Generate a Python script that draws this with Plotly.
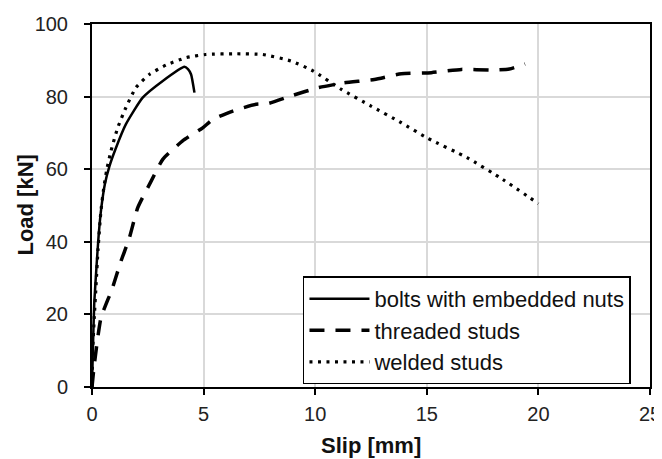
import plotly.graph_objects as go

bolts_x = [0, 0.03, 0.1, 0.2, 0.3, 0.42, 0.58, 0.78, 1.05, 1.52, 2.27, 3.17, 4.14, 4.3, 4.44, 4.59]
bolts_y = [0, 8, 23, 33, 42, 49.5, 56, 60.8, 65.5, 72.4, 79.7, 84.3, 88.2, 87.6, 86.1, 81.1]

threaded_x = [0, 0.1, 0.4, 0.9, 1.3, 1.67, 2.05, 2.65, 3.17, 4.06, 4.96, 5.41, 6.31, 7.35, 7.9, 8.92, 10.1, 11.3, 12.65, 13.86, 15.2, 16.55, 17.9, 18.7, 19.4]
threaded_y = [0, 6, 19, 27, 34.7, 41, 49.4, 56.7, 62.7, 67.8, 71.4, 73.7, 76, 77.9, 78.1, 80.2, 82.4, 83.8, 84.7, 86.3, 86.6, 87.5, 87.3, 87.6, 89]

welded_x = [0, 0.03, 0.1, 0.18, 0.27, 0.4, 0.52, 0.66, 0.85, 1.15, 1.52, 1.97, 2.57, 3.32, 4.2, 5.1, 6.46, 7.65, 8.92, 9.9, 11.17, 12.5, 13.86, 15.05, 16.8, 18.4, 20]
welded_y = [0, 10, 19, 28, 38, 48.5, 54.5, 59.8, 65, 71.4, 77, 82.5, 86.1, 88.7, 90.7, 91.6, 91.8, 91.6, 89.8, 87.1, 82, 77.4, 72.8, 68.5, 63.2, 57.2, 50.5]

series_names = ["bolts with embedded nuts", "threaded studs", "welded studs"]

x_ticks = [0, 5, 10, 15, 20, 25]
y_ticks = [0, 20, 40, 60, 80, 100]

x_title = "Slip [mm]"
y_title = "Load [kN]"

FONT = "Liberation Sans, Arial, sans-serif"

fig = go.Figure()
fig.add_trace(go.Scatter(x=bolts_x, y=bolts_y, mode="lines", name=series_names[0],
                         line=dict(color="black", width=2.5, shape="spline", smoothing=0.5)))
fig.add_trace(go.Scatter(x=threaded_x, y=threaded_y, mode="lines", name=series_names[1],
                         line=dict(color="black", width=3.5, dash="15px,11px", shape="spline", smoothing=0.5)))
fig.add_trace(go.Scatter(x=welded_x, y=welded_y, mode="lines", name=series_names[2],
                         line=dict(color="black", width=3.2, dash="3px,5.5px", shape="spline", smoothing=0.5)))

fig.update_layout(
    width=662, height=459,
    margin=dict(l=84, r=20, t=16, b=80),
    paper_bgcolor="white", plot_bgcolor="white",
    font=dict(family=FONT, size=20, color="#222222"),
    showlegend=True,
    legend=dict(x=0.672, y=0.156, xanchor="center", yanchor="middle",
                bgcolor="white", bordercolor="black", borderwidth=1.5,
                font=dict(family=FONT, size=22, color="#111111"),
                tracegroupgap=0, itemwidth=60),
    xaxis=dict(range=[0, 25], tickvals=x_ticks, showgrid=True, gridcolor="#d9d9d9", gridwidth=1.5,
               showline=True, linecolor="black", linewidth=2, mirror=True,
               ticks="outside", ticklen=6, tickwidth=1.5, tickcolor="black",
               tickfont=dict(size=20), zeroline=False, automargin=False, ticklabelstandoff=2),
    yaxis=dict(range=[0, 100], tickvals=y_ticks, showgrid=True, gridcolor="#d9d9d9", gridwidth=1.5,
               showline=True, linecolor="black", linewidth=2, mirror=True,
               ticks="outside", ticklen=6, tickwidth=1.5, tickcolor="black",
               tickfont=dict(size=20), zeroline=False, automargin=False, ticklabelstandoff=12),
    annotations=[
        dict(text="<b>" + x_title + "</b>", xref="paper", yref="paper", x=0.5, y=-0.162,
             xanchor="center", yanchor="middle", showarrow=False,
             font=dict(family=FONT, size=22, color="#111111")),
        dict(text="<b>" + y_title + "</b>", xref="paper", yref="paper", x=-0.12, y=0.5,
             xanchor="center", yanchor="middle", showarrow=False, textangle=-90,
             font=dict(family=FONT, size=22, color="#111111")),
    ],
)

fig.write_html("out.html")
